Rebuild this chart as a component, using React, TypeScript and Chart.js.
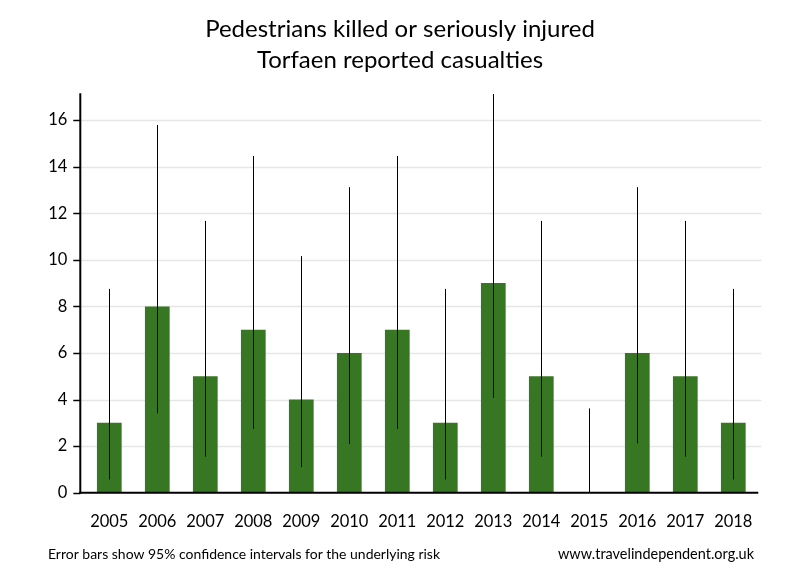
import React, { useEffect, useRef } from "react";
import { Chart, registerables } from "chart.js";

Chart.register(...registerables);

const years = ["2005", "2006", "2007", "2008", "2009", "2010", "2011", "2012", "2013", "2014", "2015", "2016", "2017", "2018"];
const casualties = [3, 8, 5, 7, 4, 6, 7, 3, 9, 5, 0, 6, 5, 3];
const ciLow = [0.57, 3.41, 1.55, 2.74, 1.1, 2.09, 2.74, 0.57, 4.07, 1.55, 0, 2.12, 1.55, 0.57];
const ciHigh = [8.75, 15.79, 11.67, 14.46, 10.16, 13.12, 14.46, 8.75, 17.12, 11.67, 3.62, 13.12, 11.67, 8.75];
const yTickValues = [0, 2, 4, 6, 8, 10, 12, 14, 16];
const titleLines = ["Pedestrians killed or seriously injured", "Torfaen reported casualties"];
const footLeft = "Error bars show 95% confidence intervals for the underlying risk";
const footRight = "www.travelindependent.org.uk";

const FONT = "Lato, 'Open Sans', sans-serif";

const framePlugin = {
  id: "frame",
  beforeDatasetsDraw(chart: any) {
    const { ctx, chartArea, scales } = chart;
    const y = scales.y;
    const axisX = chartArea.left - 5;
    ctx.save();
    ctx.strokeStyle = "#e6e6e6";
    ctx.lineWidth = 1.5;
    for (const v of yTickValues) {
      if (v === 0) continue;
      const py = Math.round(y.getPixelForValue(v)) + 0.5;
      ctx.beginPath();
      ctx.moveTo(axisX, py);
      ctx.lineTo(chartArea.right + 4, py);
      ctx.stroke();
    }
    ctx.restore();
  },
  afterDatasetsDraw(chart: any) {
    const { ctx, chartArea, scales } = chart;
    const x = scales.x;
    const y = scales.y;
    const axisX = chartArea.left - 5;
    ctx.save();
    // error bars
    ctx.strokeStyle = "#000";
    ctx.lineWidth = 1;
    for (let i = 0; i < years.length; i++) {
      const px = Math.round(x.getPixelForValue(i)) + 0.5;
      ctx.beginPath();
      ctx.moveTo(px, y.getPixelForValue(ciHigh[i]));
      ctx.lineTo(px, y.getPixelForValue(ciLow[i]));
      ctx.stroke();
    }
    // axes
    ctx.lineWidth = 2;
    const y0 = y.getPixelForValue(0);
    ctx.beginPath();
    ctx.moveTo(axisX, chartArea.top);
    ctx.lineTo(axisX, y0 + 1);
    ctx.stroke();
    ctx.beginPath();
    ctx.moveTo(axisX - 1, y0);
    ctx.lineTo(chartArea.right + 1, y0);
    ctx.stroke();
    ctx.lineWidth = 1.5;
    for (const v of yTickValues) {
      const py = Math.round(y.getPixelForValue(v)) + 0.5;
      ctx.beginPath();
      ctx.moveTo(axisX - 7, py);
      ctx.lineTo(axisX, py);
      ctx.stroke();
    }
    // titles
    ctx.fillStyle = "#000";
    ctx.textAlign = "center";
    ctx.textBaseline = "middle";
    ctx.font = `24px ${FONT}`;
    ctx.fillText(titleLines[0], 400, 29, 396);
    ctx.fillText(titleLines[1], 400, 60.5, 288);
    // footer
    ctx.font = `14px ${FONT}`;
    ctx.textAlign = "left";
    ctx.fillText(footLeft, 48, 554, 392);
    ctx.font = `15px ${FONT}`;
    ctx.textAlign = "right";
    ctx.fillText(footRight, 754, 554, 196);
    ctx.restore();
  },
};

export default function App() {
  const ref = useRef<HTMLCanvasElement>(null);
  useEffect(() => {
    const chart = new Chart(ref.current!, {
      type: "bar",
      data: {
        labels: years,
        datasets: [
          {
            data: casualties,
            backgroundColor: "#377622",
            categoryPercentage: 1,
            barPercentage: 0.515,
          },
        ],
      },
      options: {
        responsive: false,
        animation: false,
        devicePixelRatio: 1,
        layout: { padding: { top: 93.3, right: 42.7, bottom: 0, left: 0 } },
        plugins: { legend: { display: false }, title: { display: false }, tooltip: { enabled: false } },
        scales: {
          x: {
            grid: { display: false, drawTicks: false },
            border: { display: false },
            ticks: { color: "#000", font: { family: FONT, size: 16.5 }, padding: 19, maxRotation: 0, autoSkip: false },
            afterFit: (s: any) => { s.height = 580 - 492.7; },
          },
          y: {
            min: 0,
            max: 17.15,
            grid: { display: false, drawTicks: false },
            border: { display: false },
            ticks: { stepSize: 2, includeBounds: false, color: "#000", font: { family: FONT, size: 16.5 }, padding: 18 },
            afterFit: (s: any) => { s.width = 85.3; },
          },
        },
      },
      plugins: [framePlugin],
    });
    return () => chart.destroy();
  }, []);
  return (
    <div style={{ position: "absolute", left: 0, top: 0, width: 800, height: 580, background: "#fff" }}>
      <canvas ref={ref} width={800} height={580} />
    </div>
  );
}
